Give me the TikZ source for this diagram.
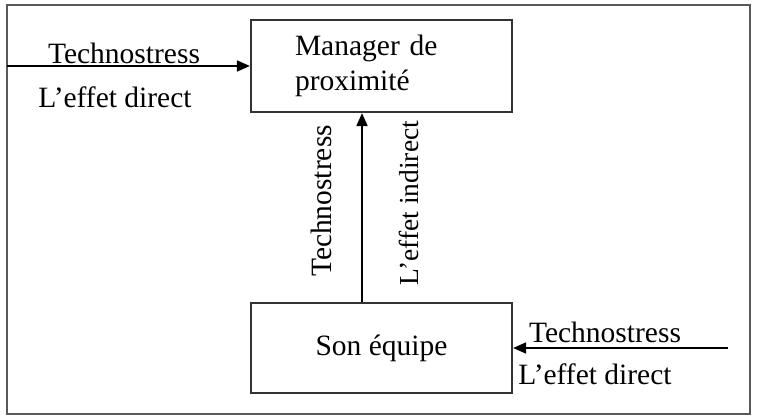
\documentclass[tikz,border=0pt]{standalone}
\usepackage{fontspec}
\setmainfont{Liberation Serif}
\usetikzlibrary{arrows.meta}
\begin{document}
\begin{tikzpicture}[
  x=1pt, y=-1pt,
  every node/.style={font=\fontsize{29.5}{35}\selectfont},
  frame/.style={draw=black!65, line width=2.6pt},
  box/.style={draw=black!80, line width=2.2pt, minimum width=261pt, minimum height=92pt},
  lbl/.style={inner sep=0pt},
  arrow/.style={-{Triangle[length=13pt,width=11pt]}, line width=1.8pt}
]
\useasboundingbox (0,0) rectangle (774,420);
\draw[frame] (7,5) rectangle (750,414);
\node[box, align=left, text width=173pt, inner xsep=44pt] (manager) at (381.5,66) {Manager de\\proximit\'e};
\node[box, minimum height=90pt] (equipe) at (381.5,348) {Son \'equipe};
\coordinate (inL) at (7,66);
\coordinate (inR) at (728,348);
\draw[arrow] (inL) -- (manager.west);
\draw[arrow] (inR) -- (equipe.east);
\draw[arrow] ([xshift=-19.5pt]equipe.north) -- ([xshift=-19.5pt]manager.south);
\node[lbl] (tsL) at (124,53) {Technostress};
\node[lbl] (edL) at (115,97) {L'effet direct};
\node[lbl] (tsR) at (605,332) {Technostress};
\node[lbl] (edR) at (595,374) {L'effet direct};
\node[lbl, rotate=90] (tsV) at (321,201) {Technostress};
\node[lbl, rotate=90, font=\fontsize{27.5}{33}\selectfont] (eiV) at (409,203) {L'effet indirect};
\end{tikzpicture}
\end{document}
